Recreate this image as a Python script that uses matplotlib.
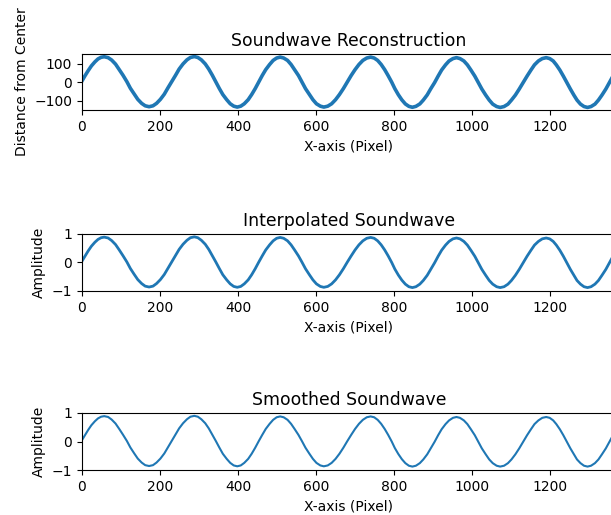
import matplotlib
matplotlib.use('Agg')
import matplotlib.pyplot as plt

# x positions (pixel columns)
x_pixel = [0, 8, 16, 24, 33, 41, 49, 57,
           67, 76, 86, 95, 105, 115, 124, 134, 143, 153, 162, 172,
           182, 191, 201, 211, 220, 230, 240, 249, 259, 269, 278, 288,
           297, 306, 316, 325, 334, 343, 352, 361, 371, 380, 389, 398,
           407, 416, 426, 435, 444, 453, 462, 471, 481, 490, 499, 508,
           517, 527, 536, 545, 555, 564, 573, 583, 592, 601, 611, 620,
           630, 640, 650, 660, 670, 680, 690, 700, 710, 720, 730, 740,
           749, 758, 767, 776, 785, 794, 802, 811, 820, 829, 838, 847,
           856, 866, 875, 885, 894, 904, 913, 922, 932, 941, 951, 960,
           969, 979, 988, 997, 1007, 1016, 1025, 1035, 1044, 1053, 1063, 1072,
           1082, 1092, 1101, 1111, 1121, 1131, 1141, 1151, 1160, 1170, 1180, 1190,
           1199, 1208, 1216, 1225, 1234, 1243, 1252, 1261, 1269, 1278, 1287, 1296,
           1305, 1315, 1324, 1333, 1343, 1352, 1361, 1369]

# distance from center (pixels)
distance = [7, 36, 63, 88, 110, 126, 135, 138,
            133, 120, 98, 70, 38, 3, -33, -65, -93, -115, -128, -133,
            -128, -115, -93, -65, -32, 3, 38, 71, 99, 121, 134, 139,
            134, 121, 99, 71, 38, 2, -34, -67, -95, -117, -130, -135,
            -130, -117, -95, -67, -35, 0, 36, 68, 96, 118, 131, 136,
            131, 118, 96, 68, 36, 0, -35, -67, -95, -117, -130, -135,
            -130, -117, -95, -67, -35, 0, 36, 68, 96, 118, 131, 136,
            131, 118, 96, 68, 35, 0, -35, -68, -96, -118, -131, -136,
            -131, -118, -97, -69, -36, -2, 33, 66, 94, 115, 128, 133,
            128, 115, 94, 66, 33, -2, -37, -70, -97, -119, -132, -137,
            -132, -119, -97, -70, -37, -2, 33, 66, 94, 115, 128, 133,
            128, 115, 94, 66, 33, -2, -37, -70, -97, -119, -132, -137,
            -132, -119, -97, -70, -37, -2, 32, 59]

# normalised amplitude (interpolated and smoothed curves look the same)
amplitude = [0.05, 0.23, 0.41, 0.57, 0.71, 0.81, 0.87, 0.89,
             0.86, 0.77, 0.63, 0.45, 0.24, 0.02, -0.21, -0.42, -0.60, -0.74, -0.83, -0.86,
             -0.83, -0.74, -0.60, -0.42, -0.21, 0.02, 0.25, 0.46, 0.64, 0.78, 0.87, 0.90,
             0.87, 0.78, 0.64, 0.46, 0.24, 0.02, -0.21, -0.43, -0.61, -0.75, -0.84, -0.87,
             -0.84, -0.75, -0.61, -0.43, -0.22, 0.01, 0.23, 0.44, 0.62, 0.76, 0.85, 0.88,
             0.85, 0.76, 0.62, 0.44, 0.23, 0.01, -0.22, -0.43, -0.61, -0.75, -0.84, -0.87,
             -0.84, -0.75, -0.61, -0.43, -0.22, 0.01, 0.23, 0.44, 0.62, 0.76, 0.85, 0.88,
             0.85, 0.76, 0.62, 0.44, 0.23, 0.00, -0.23, -0.44, -0.62, -0.76, -0.85, -0.88,
             -0.85, -0.76, -0.63, -0.45, -0.24, -0.01, 0.22, 0.43, 0.61, 0.74, 0.83, 0.86,
             0.83, 0.74, 0.61, 0.43, 0.22, -0.01, -0.24, -0.45, -0.63, -0.76, -0.85, -0.88,
             -0.85, -0.76, -0.63, -0.45, -0.24, -0.01, 0.22, 0.43, 0.61, 0.74, 0.83, 0.86,
             0.83, 0.74, 0.61, 0.43, 0.22, -0.01, -0.24, -0.45, -0.63, -0.76, -0.85, -0.88,
             -0.85, -0.76, -0.63, -0.45, -0.24, -0.01, 0.21, 0.39]

fig = plt.figure(figsize=(6.11, 5.15), dpi=100)

# axes run a little past the right edge, like in the original crop
left = 82 / 611
width = (616 - 82) / 611

# ── Top: raw reconstruction ────────────────────────────────
ax1 = fig.add_axes([left, 1 - 110 / 515, width, 56 / 515])
ax1.plot(x_pixel, distance, color='#1f77b4', linewidth=2.6)
ax1.set_xlim(0, x_pixel[-1])
ax1.set_title('Soundwave Reconstruction', fontsize=12.4)
ax1.set_xlabel('X-axis (Pixel)')
ax1.set_ylabel('Distance from Center')

# ── Middle: interpolated ───────────────────────────────────
ax2 = fig.add_axes([left, 1 - 291 / 515, width, 57 / 515])
ax2.plot(x_pixel, amplitude, color='#1f77b4', linewidth=2)
ax2.set_xlim(0, x_pixel[-1])
ax2.set_ylim(-1, 1)
ax2.set_title('Interpolated Soundwave', fontsize=12.4)
ax2.set_xlabel('X-axis (Pixel)')
ax2.set_ylabel('Amplitude')

# ── Bottom: smoothed ───────────────────────────────────────
ax3 = fig.add_axes([left, 1 - 470 / 515, width, 57 / 515])
ax3.plot(x_pixel, amplitude, color='#1f77b4', linewidth=1.5)
ax3.set_xlim(0, x_pixel[-1])
ax3.set_ylim(-1, 1)
ax3.set_title('Smoothed Soundwave', fontsize=12.4)
ax3.set_xlabel('X-axis (Pixel)')
ax3.set_ylabel('Amplitude')

fig.savefig('out.png', dpi=100)
